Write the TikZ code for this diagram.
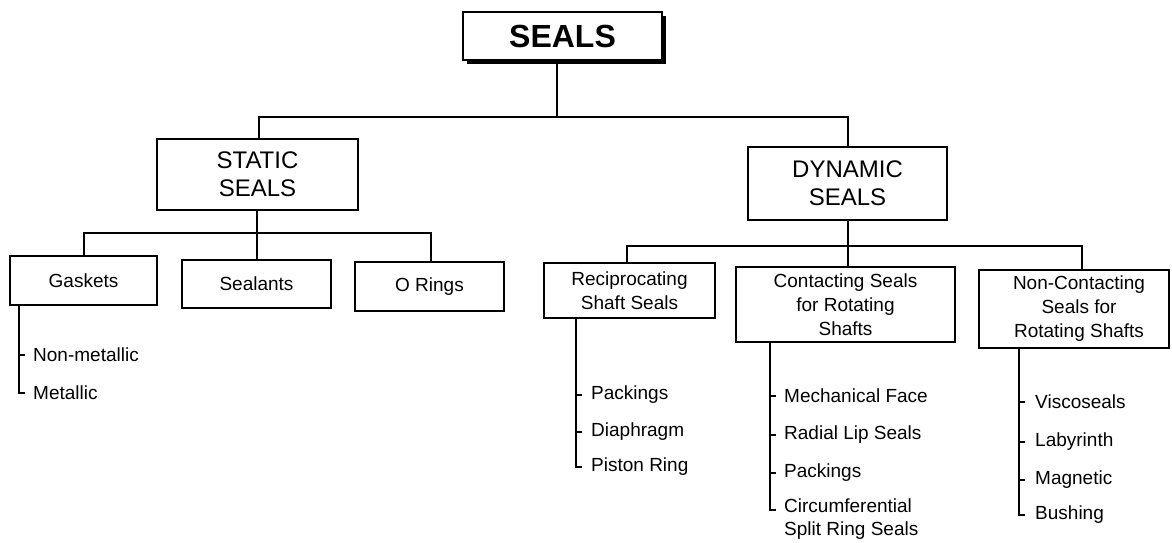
\documentclass[tikz,border=0pt]{standalone}
\usepackage{fontspec}
\setmainfont{Liberation Sans}
\usetikzlibrary{calc,shadows}
\begin{document}
\begin{tikzpicture}[x=1pt,y=-1pt,
  box/.style={draw, line width=1.8pt, inner sep=0pt, align=center, fill=white,
    font=\fontsize{19}{24}\selectfont},
  bigbox/.style={box, font=\fontsize{24}{28}\selectfont},
  conn/.style={line width=1.6pt},
  item/.style={anchor=west, inner xsep=8pt, inner ysep=0pt, font=\fontsize{19}{23}\selectfont}]
\useasboundingbox[fill=white] (0,0) rectangle (1172,542);

% ---------- boxes ----------
\node[box, minimum width=199pt, minimum height=48pt,
  drop shadow={shadow xshift=4pt, shadow yshift=-4pt, fill=black, opacity=1},
  font=\fontsize{32}{36}\selectfont\bfseries] (seals) at (562.5,36) {SEALS};

\node[bigbox, minimum width=201pt, minimum height=71pt] (static) at (257.5,174.5) {STATIC\\SEALS};
\node[bigbox, minimum width=199pt, minimum height=73pt] (dynamic) at (847.5,183.5) {DYNAMIC\\SEALS};

\node[box, minimum width=147pt, minimum height=49pt] (gk) at (83.5,280.5) {Gaskets};
\node[box, minimum width=149pt, minimum height=48pt] (sl) at (256.5,284) {Sealants};
\node[box, minimum width=149pt, minimum height=49pt] (or) at (429.5,286.5) {O Rings};

\node[box, minimum width=171pt, minimum height=55pt] (rc) at (629.5,290.5) {Reciprocating\\Shaft Seals};
\node[box, minimum width=219pt, minimum height=75pt] (ct) at (845.5,304.5) {Contacting Seals\\for Rotating\\Shafts};
\node[box, minimum width=190pt, minimum height=78pt] (nc) at (1074,309) {\hspace*{10pt}Non-Contacting\\\hspace*{10pt}Seals for\\\hspace*{10pt}Rotating Shafts};

% ---------- junctions ----------
\coordinate (j0) at (557,117);
\coordinate (jS) at (259,117);
\coordinate (jD) at (848,117);
\coordinate (k0) at (257,233);
\coordinate (kG) at (84,233);
\coordinate (kO) at (431,233);
\coordinate (m0) at (848,246);
\coordinate (mR) at (627,246);
\coordinate (mN) at (1082,246);

\draw[conn] (seals.south -| j0) -- (j0);
\draw[conn] (static.north -| jS) -- (jS) -- (jD) -- (dynamic.north -| jD);

\draw[conn] (static.south -| k0) -- (k0);
\draw[conn] (gk.north -| kG) -- (kG) -- (kO) -- (or.north -| kO);
\draw[conn] (k0) -- (sl.north -| k0);

\draw[conn] (dynamic.south -| m0) -- (m0);
\draw[conn] (rc.north -| mR) -- (mR) -- (mN) -- (nc.north -| mN);
\draw[conn] (m0) -- (ct.north -| m0);

% ---------- sub-lists ----------
\coordinate (vg) at (19,0);
\coordinate (vr) at (576,0);
\coordinate (vc) at (770,0);
\coordinate (vn) at (1019,0);

% Gaskets
\node[item] (g1) at (25,355) {Non-metallic};
\node[item] (g2) at (25,393) {Metallic};
\draw[conn] (gk.south -| vg) |- (g2.west);
\draw[conn] (g1.west) -- (g1.west -| vg);

% Reciprocating
\node[item, inner xsep=9pt] (r1) at (582,395) {Packings};
\node[item, inner xsep=9pt] (r2) at (582,432) {Diaphragm};
\node[item, inner xsep=9pt] (r3) at (582,467) {Piston Ring};
\draw[conn] (rc.south -| vr) |- (r3.west);
\draw[conn] (r1.west) -- (r1.west -| vr);
\draw[conn] (r2.west) -- (r2.west -| vr);

% Contacting
\node[item] (c1) at (776,396) {Mechanical Face};
\node[item] (c2) at (776,435) {Radial Lip Seals};
\node[item] (c3) at (776,473) {Packings};
\node[item, anchor=north west, align=left] (c4) at (776,499) {Circumferential\\Split Ring Seals};
\coordinate (c4t) at ($(c4.north west)+(0,11)$);
\draw[conn] (ct.south -| vc) |- (c4t);
\draw[conn] (c1.west) -- (c1.west -| vc);
\draw[conn] (c2.west) -- (c2.west -| vc);
\draw[conn] (c3.west) -- (c3.west -| vc);

% Non-contacting
\node[item, inner xsep=10pt] (n1) at (1025,402) {Viscoseals};
\node[item, inner xsep=10pt] (n2) at (1025,442) {Labyrinth};
\node[item, inner xsep=10pt] (n3) at (1025,480) {Magnetic};
\node[item, inner xsep=10pt] (n4) at (1025,515) {Bushing};
\draw[conn] (nc.south -| vn) |- (n4.west);
\draw[conn] (n1.west) -- (n1.west -| vn);
\draw[conn] (n2.west) -- (n2.west -| vn);
\draw[conn] (n3.west) -- (n3.west -| vn);
\end{tikzpicture}
\end{document}
